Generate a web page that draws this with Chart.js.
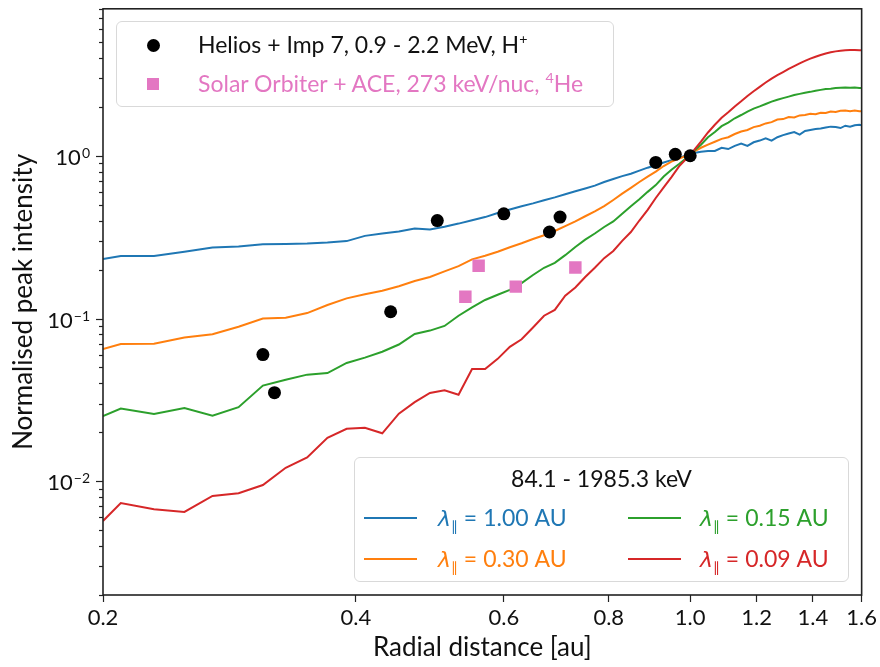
<!DOCTYPE html>
<html>
<head>
<meta charset="utf-8">
<title>Normalised peak intensity vs radial distance</title>
<script src="https://cdn.jsdelivr.net/npm/chart.js@4.4.1/dist/chart.umd.min.js"></script>
<style>
    body { margin: 0; background: #fff; font-family: Lato, 'DejaVu Sans', sans-serif; }
    #wrap { position: relative; width: 880px; height: 667px; }
    #chart { position: absolute; left: 0; top: 0; }
    .legend {
        position: absolute;
        box-sizing: border-box;
        background: rgba(255, 255, 255, 0.85);
        border: 1px solid #d9d9d9;
        border-radius: 6px;
        font-size: 23px;
        line-height: 1.2;
        color: #111;
    }
    .legend .item { position: absolute; white-space: nowrap; }
    .legend sup { font-size: 0.62em; vertical-align: 0.6em; line-height: 0; }
    .legend sub { font-size: 0.6em; vertical-align: -0.35em; line-height: 0; }
    .legend .lam { font-family: 'DejaVu Sans', sans-serif; font-style: italic; font-size: 0.95em; }
    .legend .eq { margin: 0 6px; }
    .legend .marker { position: absolute; }
    .legend .swatch { position: absolute; height: 2px; }
    #legend-data { left: 116px; top: 21px; width: 498px; height: 86px; }
    #legend-model { left: 354px; top: 457px; width: 495px; height: 125px; }
</style>
</head>
<body>
<div id="wrap">
    <canvas id="chart" width="880" height="667"></canvas>
    <div class="legend" id="legend-data"></div>
    <div class="legend" id="legend-model"></div>
</div>
<script>
// Radial grid of the transport simulations [au]
const radius = [0.20, 0.21, 0.23, 0.25, 0.27, 0.29, 0.31, 0.33, 0.35, 0.37, 0.39, 0.41, 0.43, 0.45, 0.47, 0.49,
    0.51, 0.53, 0.55, 0.57, 0.59, 0.61, 0.63, 0.65, 0.67, 0.69, 0.71, 0.73, 0.75, 0.77, 0.79, 0.81, 0.83, 0.85,
    0.87, 0.89, 0.91, 0.93, 0.95, 0.97, 0.99, 1.01, 1.03, 1.05, 1.07, 1.09, 1.11, 1.13, 1.15, 1.17, 1.19, 1.21,
    1.23, 1.25, 1.27, 1.29, 1.31, 1.33, 1.35, 1.37, 1.39, 1.41, 1.43, 1.45, 1.47, 1.49, 1.51, 1.53, 1.55, 1.57,
    1.59, 1.60];

// Simulated peak intensities, one list per mean free path
const peakLambda100 = [0.232, 0.242, 0.242, 0.257, 0.273, 0.277, 0.286, 0.287, 0.289, 0.293, 0.299, 0.322, 0.333,
    0.343, 0.357, 0.352, 0.366, 0.383, 0.402, 0.420, 0.445, 0.468, 0.490, 0.510, 0.533, 0.555, 0.580, 0.605, 0.630,
    0.655, 0.690, 0.720, 0.750, 0.775, 0.810, 0.845, 0.875, 0.910, 0.940, 0.975, 1.000,
    1.04, 1.06, 1.07, 1.07, 1.12, 1.10, 1.15, 1.19, 1.15, 1.21, 1.24, 1.28, 1.24, 1.30, 1.34, 1.37, 1.40, 1.35,
    1.42, 1.44, 1.46, 1.47, 1.49, 1.51, 1.50, 1.48, 1.53, 1.51, 1.54, 1.55, 1.54];
const peakLambda030 = [0.065, 0.0696, 0.070, 0.0765, 0.080, 0.089, 0.100, 0.101, 0.108, 0.121, 0.133, 0.141, 0.148,
    0.158, 0.170, 0.180, 0.195, 0.210, 0.231, 0.243, 0.257, 0.274, 0.290, 0.308, 0.325, 0.345, 0.370, 0.395, 0.425,
    0.455, 0.490, 0.535, 0.585, 0.635, 0.690, 0.745, 0.800, 0.865, 0.920, 0.960, 1.000,
    1.06, 1.12, 1.17, 1.22, 1.27, 1.30, 1.36, 1.41, 1.44, 1.50, 1.53, 1.58, 1.61, 1.67, 1.68, 1.73, 1.72, 1.77,
    1.78, 1.81, 1.80, 1.84, 1.83, 1.87, 1.86, 1.89, 1.90, 1.88, 1.90, 1.88, 1.88];
const peakLambda015 = [0.0251, 0.0280, 0.0259, 0.0282, 0.0253, 0.0285, 0.0387, 0.0420, 0.0452, 0.0462, 0.0533,
    0.0575, 0.0625, 0.0692, 0.0804, 0.0843, 0.090, 0.104, 0.117, 0.130, 0.140, 0.150, 0.165, 0.185, 0.205, 0.220,
    0.245, 0.275, 0.305, 0.333, 0.365, 0.395, 0.44, 0.49, 0.54, 0.60, 0.66, 0.745, 0.82, 0.89, 0.97,
    1.07, 1.17, 1.30, 1.40, 1.52, 1.60, 1.70, 1.78, 1.87, 1.95, 2.01, 2.08, 2.15, 2.21, 2.26, 2.31, 2.36, 2.40,
    2.44, 2.47, 2.51, 2.54, 2.57, 2.58, 2.61, 2.62, 2.63, 2.62, 2.63, 2.61, 2.61];
const peakLambda009 = [0.0057, 0.00735, 0.00673, 0.00648, 0.00812, 0.00843, 0.00948, 0.0121, 0.0140, 0.0185,
    0.0210, 0.0213, 0.0197, 0.0260, 0.0306, 0.0349, 0.0362, 0.0340, 0.0489, 0.0490, 0.0565, 0.067, 0.0745, 0.088,
    0.104, 0.113, 0.138, 0.155, 0.180, 0.205, 0.235, 0.26, 0.30, 0.34, 0.40, 0.465, 0.55, 0.64, 0.74, 0.86, 0.96,
    1.08, 1.22, 1.39, 1.55, 1.71, 1.85, 2.01, 2.16, 2.33, 2.49, 2.65, 2.82, 2.98, 3.13, 3.27, 3.42, 3.56, 3.70,
    3.83, 3.95, 4.06, 4.16, 4.25, 4.32, 4.38, 4.42, 4.45, 4.46, 4.46, 4.45, 4.45];

// Observations
const heliosRadius = [0.31, 0.32, 0.44, 0.50, 0.60, 0.68, 0.70, 0.91, 0.96, 1.00];
const heliosPeak = [0.060, 0.035, 0.110, 0.400, 0.440, 0.340, 0.420, 0.910, 1.020, 1.000];
const soloRadius = [0.54, 0.56, 0.62, 0.73];
const soloPeak = [0.136, 0.211, 0.157, 0.206];

// Axes
const xTicks = [0.2, 0.4, 0.6, 0.8, 1.0, 1.2, 1.4, 1.6];
const xRange = [0.2, 1.6];
const yMajorTicks = [0.01, 0.1, 1];
const yRange = [0.002, 8];

// Legend texts
const lambdaLabels = ['1.00', '0.30', '0.15', '0.09'];
const energyBand = '84.1 - 1985.3 keV';

const COLORS = ['#1f77b4', '#ff7f0e', '#2ca02c', '#d62728'];
const PINK = '#e377c2';
const AXIS_COLOR = '#222';
const FONT = 'Lato, "DejaVu Sans", sans-serif';

/**
 * Pair x and y lists into Chart.js points
 */
function toPoints(xs, ys) {
    return xs.map((x, i) => ({ x: x, y: ys[i] }));
}

/**
 * Draw the y ticks with 10^n labels, the minor log ticks and the frame
 */
const axisDecorations = {
    id: 'axisDecorations',
    afterDraw(chart) {
        const ctx = chart.ctx;
        const area = chart.chartArea;
        const yScale = chart.scales.y;

        ctx.save();
        ctx.strokeStyle = AXIS_COLOR;
        ctx.lineWidth = 1.2;

        // minor ticks (2..9 in every decade)
        for (let e = -3; e <= 0; e++) {
            for (let m = 2; m <= 9; m++) {
                const v = m * Math.pow(10, e);
                if (v < yRange[0] || v > yRange[1]) continue;
                const py = Math.round(yScale.getPixelForValue(v)) + 0.5;
                ctx.beginPath();
                ctx.moveTo(area.left - 4, py);
                ctx.lineTo(area.left, py);
                ctx.stroke();
            }
        }

        // major ticks and labels
        ctx.fillStyle = '#111';
        ctx.textBaseline = 'alphabetic';
        yMajorTicks.forEach(v => {
            const py = Math.round(yScale.getPixelForValue(v)) + 0.5;
            ctx.beginPath();
            ctx.moveTo(area.left - 7, py);
            ctx.lineTo(area.left, py);
            ctx.stroke();

            const exp = String(Math.round(Math.log10(v))).replace('-', '\u2212');
            ctx.font = '14px ' + FONT;
            const expWidth = ctx.measureText(exp).width;
            const right = area.left - 13;
            ctx.textAlign = 'right';
            ctx.fillText(exp, right, py + 1);
            ctx.font = '22px ' + FONT;
            ctx.fillText('10', right - expWidth - 1, py + 8);
        });

        // frame
        ctx.lineWidth = 1.6;
        ctx.strokeRect(area.left, area.top, area.right - area.left, area.bottom - area.top);
        ctx.restore();
    }
};

/**
 * Build the two legend boxes
 */
function buildLegends() {
    const data = document.getElementById('legend-data');
    data.innerHTML =
        '<div class="marker" style="left:29.5px;top:16.5px;width:13px;height:13px;border-radius:50%;background:#000"></div>' +
        '<div class="item" style="left:81px;top:8.5px;color:#111">Helios + Imp 7, 0.9 - 2.2 MeV, H<sup>+</sup></div>' +
        '<div class="marker" style="left:29.8px;top:55.8px;width:12.5px;height:12.5px;background:' + PINK + '"></div>' +
        '<div class="item" style="left:81px;top:47.5px;color:' + PINK + '">Solar Orbiter + ACE, 273 keV/nuc, <sup>4</sup>He</div>';

    const model = document.getElementById('legend-model');
    let html = '<div class="item" style="left:0;width:100%;text-align:center;top:6.5px">' + energyBand + '</div>';
    const cols = [{ swatch: 9, text: 83 }, { swatch: 273, text: 345 }];
    const rows = [60, 101];
    lambdaLabels.forEach((lab, i) => {
        const col = cols[Math.floor(i / 2)];
        const cy = rows[i % 2];
        html += '<div class="swatch" style="left:' + col.swatch + 'px;width:53px;top:' + (cy - 1) + 'px;background:' + COLORS[i] + '"></div>';
        html += '<div class="item" style="left:' + col.text + 'px;top:' + (cy - 14.5) + 'px;color:' + COLORS[i] + '">' +
            '<span class="lam">\u03bb</span><sub>\u2225</sub><span class="eq">=</span>' + lab + ' AU</div>';
    });
    model.innerHTML = html;
}

/**
 * Create the chart
 */
function createPeakIntensityChart() {
    const ctx = document.getElementById('chart').getContext('2d');
    const curves = [peakLambda100, peakLambda030, peakLambda015, peakLambda009];

    const lineSets = curves.map((vals, i) => ({
        label: 'lambda ' + lambdaLabels[i],
        data: toPoints(radius, vals),
        showLine: true,
        borderColor: COLORS[i],
        borderWidth: 2,
        pointRadius: 0,
        fill: false,
        tension: 0,
        order: 5 - i
    }));

    new Chart(ctx, {
        type: 'scatter',
        data: {
            datasets: [{
                label: 'Helios + Imp 7',
                data: toPoints(heliosRadius, heliosPeak),
                pointStyle: 'circle',
                pointRadius: 6.5,
                backgroundColor: '#000',
                borderWidth: 0,
                order: 0
            }, {
                label: 'Solar Orbiter + ACE',
                data: toPoints(soloRadius, soloPeak),
                pointStyle: 'rect',
                pointRadius: 8.8,
                backgroundColor: PINK,
                borderWidth: 0,
                order: 1
            }].concat(lineSets)
        },
        options: {
            responsive: false,
            animation: false,
            devicePixelRatio: 1,
            layout: { padding: { left: 4, right: 17, top: 8, bottom: 0 } },
            plugins: {
                legend: { display: false },
                tooltip: { enabled: false }
            },
            scales: {
                x: {
                    type: 'logarithmic',
                    min: xRange[0],
                    max: xRange[1],
                    afterBuildTicks: scale => { scale.ticks = xTicks.map(v => ({ value: v })); },
                    afterFit: scale => { scale.height = 72; },
                    border: { display: false },
                    grid: {
                        drawOnChartArea: false,
                        drawTicks: true,
                        tickLength: 7,
                        tickColor: AXIS_COLOR,
                        tickWidth: 1.2
                    },
                    ticks: {
                        autoSkip: false,
                        maxRotation: 0,
                        padding: 3,
                        color: '#111',
                        font: { family: FONT, size: 22 },
                        callback: value => Number(value).toFixed(1)
                    },
                    title: {
                        display: true,
                        text: 'Radial distance [au]',
                        color: '#111',
                        font: { family: FONT, size: 26 },
                        padding: { top: 4, bottom: 4 }
                    }
                },
                y: {
                    type: 'logarithmic',
                    min: yRange[0],
                    max: yRange[1],
                    afterFit: scale => { scale.width = 99; },
                    border: { display: false },
                    grid: { display: false },
                    ticks: { display: false },
                    title: {
                        display: true,
                        text: 'Normalised peak intensity',
                        color: '#111',
                        font: { family: FONT, size: 26 },
                        padding: { top: 4, bottom: 4 }
                    }
                }
            }
        },
        plugins: [axisDecorations]
    });
}

buildLegends();
createPeakIntensityChart();
</script>
</body>
</html>
